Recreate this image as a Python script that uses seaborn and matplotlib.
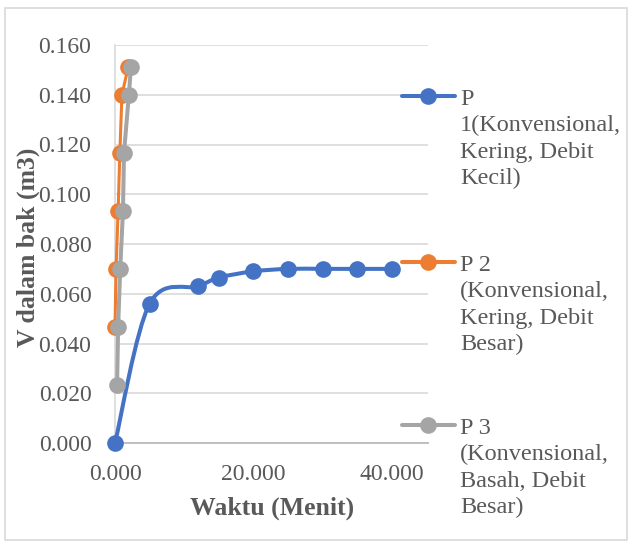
import numpy as np
import matplotlib
matplotlib.use('Agg')
import matplotlib.pyplot as plt
import seaborn as sns
from matplotlib.path import Path
from matplotlib.patches import PathPatch, Rectangle
from matplotlib.lines import Line2D

sns.set_style('white')
plt.rcParams['font.family'] = ['Liberation Serif', 'DejaVu Serif']

# data
p1_x = [0, 5, 12, 15, 20, 25, 30, 35, 40]
p1_y = [0.000, 0.056, 0.063, 0.0665, 0.069, 0.070, 0.070, 0.070, 0.070]

p2_x = [0.0, 0.15, 0.45, 0.7, 1.0, 1.9]
p2_y = [0.0466, 0.070, 0.0933, 0.1166, 0.140, 0.151]

p3_x = [0.3, 0.45, 0.75, 1.15, 1.3, 2.0, 2.3]
p3_y = [0.0233, 0.0466, 0.070, 0.0933, 0.1166, 0.140, 0.151]

labels = ['P\n1(Konvensional,\nKering, Debit\nKecil)',
          'P 2\n(Konvensional,\nKering, Debit\nBesar)',
          'P 3\n(Konvensional,\nBasah, Debit\nBesar)']
colors_ = ['#4472C4', '#ED7D31', '#A5A5A5']

yticks = [0.000, 0.020, 0.040, 0.060, 0.080, 0.100, 0.120, 0.140, 0.160]
xticks = [0, 20, 40]

txt = '#595959'
grid = '#d9d9d9'
ms = 12
lw = 2.9

W, H = 629, 545
fig = plt.figure(figsize=(W / 100, H / 100), dpi=100)
ax = fig.add_axes([115 / W, 1 - 443 / H, (428 - 115) / W, (443 - 45) / H])


def smooth_path(xs, ys):
    # excel style smoothed line (catmull-rom as bezier)
    pts = np.column_stack([xs, ys]).astype(float)
    n = len(pts)
    verts = [pts[0]]
    codes = [Path.MOVETO]
    for i in range(n - 1):
        p0 = pts[max(i - 1, 0)]
        p1 = pts[i]
        p2 = pts[i + 1]
        p3 = pts[min(i + 2, n - 1)]
        c1 = p1 + (p2 - p0) / 6
        c2 = p2 - (p3 - p1) / 6
        verts += [c1, c2, p2]
        codes += [Path.CURVE4] * 3
    return Path(verts, codes)


ax.add_patch(PathPatch(smooth_path(p1_x, p1_y), fill=False,
                       edgecolor=colors_[0], lw=lw, zorder=3,
                       capstyle='round'))
sns.scatterplot(x=p1_x, y=p1_y, color=colors_[0], s=ms ** 2, linewidth=0,
                ax=ax, zorder=4)
sns.lineplot(x=p2_x, y=p2_y, color=colors_[1], marker='o', markersize=ms,
             markeredgewidth=0, linewidth=2.2, sort=False, ax=ax, zorder=5)
sns.lineplot(x=p3_x, y=p3_y, color=colors_[2], marker='o', markersize=ms,
             markeredgewidth=0, linewidth=lw, sort=False, ax=ax, zorder=6)

ax.set_xlim(0, 45.2)
ax.set_ylim(0, 0.16)
ax.set_yticks(yticks)
ax.set_xticks(xticks)
ax.set_yticklabels(['%.3f' % v for v in yticks])
ax.set_xticklabels(['%.3f' % v for v in xticks])
ax.tick_params(length=0, labelsize=17, labelcolor=txt)
ax.tick_params(axis='y', pad=17)
ax.tick_params(axis='x', pad=15)
ax.yaxis.grid(True, color=grid, lw=1.2)
ax.xaxis.grid(False)
for s in ['top', 'right']:
    ax.spines[s].set_visible(False)
ax.spines['left'].set_color(grid)
ax.spines['bottom'].set_color('#bfbfbf')
ax.spines['left'].set_linewidth(1.2)
ax.spines['bottom'].set_linewidth(1.4)
for art in ax.lines + ax.collections + ax.patches:
    art.set_clip_on(False)

ax.set_xlabel('Waktu (Menit)', fontsize=18.5, fontweight='bold', color=txt)
ax.set_ylabel('V dalam bak (m3)', fontsize=18.5, fontweight='bold', color=txt)
ax.xaxis.set_label_coords((272 - 115) / 313, -(508 - 443) / 398)
ax.yaxis.set_label_coords(-(115 - 28) / 313, (443 - 247) / 398)
ax.xaxis.label.set_va('center')
ax.yaxis.label.set_va('center')

# legend on the right
leg_y = [96, 262, 425]
for c, lab, yy in zip(colors_, labels, leg_y):
    fy = 1 - yy / H
    fig.add_artist(Line2D([402 / W, 455 / W], [fy, fy], color=c, lw=lw))
    fig.add_artist(Line2D([428 / W], [fy], color=c, marker='o',
                          markersize=ms, markeredgewidth=0, lw=0))
    fig.text(460 / W, fy + 7 / H, lab, fontsize=17.5, color=txt, va='top',
             ha='left', linespacing=1.33)

fig.add_artist(Rectangle((5 / W, 1 - 540 / H), (627 - 5) / W, (540 - 8) / H,
                         fill=False, edgecolor=grid, lw=1.2,
                         transform=fig.transFigure))

fig.savefig('out.png', dpi=100)
